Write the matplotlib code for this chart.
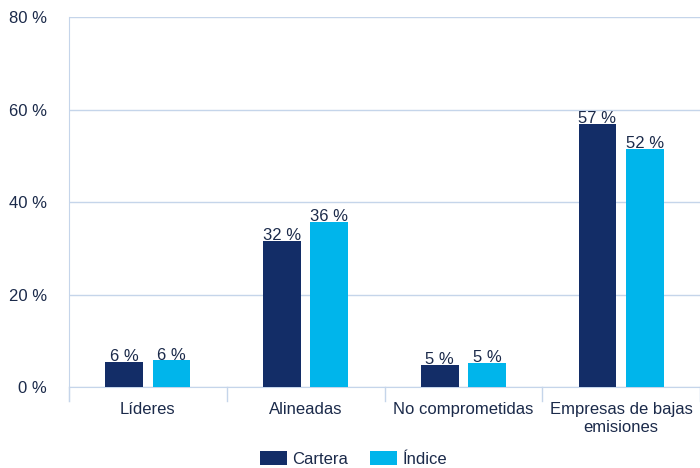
import matplotlib.pyplot as plt
import numpy as np

plt.rcParams['font.family'] = ['Liberation Sans', 'DejaVu Sans']

categorias = ['Líderes', 'Alineadas', 'No comprometidas', 'Empresas de bajas\nemisiones']
cartera = [5.4, 31.6, 4.8, 56.9]
indice = [5.8, 35.7, 5.2, 51.5]
etiquetas_cartera = ['6 %', '32 %', '5 %', '57 %']
etiquetas_indice = ['6 %', '36 %', '5 %', '52 %']

c_cartera = '#132d67'
c_indice = '#00b5eb'
c_texto = '#1b2a4a'
c_rejilla = '#c5d5ea'

fig = plt.figure(figsize=(7, 4.68), dpi=100)
ax = fig.add_axes([0.0986, 0.173, 0.9014, 0.7907])

x = np.arange(len(categorias))
w = 0.24
b1 = ax.bar(x - 0.15, cartera, w, color=c_cartera, zorder=3, label='Cartera')
b2 = ax.bar(x + 0.15, indice, w, color=c_indice, zorder=3, label='Índice')

for bars, labs in [(b1, etiquetas_cartera), (b2, etiquetas_indice)]:
    for r, t in zip(bars, labs):
        ax.text(r.get_x() + r.get_width() / 2, r.get_height() - 0.5, t,
                ha='center', va='bottom', fontsize=12, color=c_texto, zorder=4)

ax.set_xlim(-0.5, len(categorias) - 0.5)
ax.set_ylim(0, 80)
ax.set_yticks([0, 20, 40, 60, 80])
ax.set_yticklabels(['0 %', '20 %', '40 %', '60 %', '80 %'])
ax.yaxis.grid(True, color=c_rejilla, linewidth=1, zorder=0)
ax.tick_params(axis='y', length=0, pad=16, labelsize=12, labelcolor=c_texto)

ax.set_xticks(x)
ax.set_xticklabels(categorias)
ax.tick_params(axis='x', length=0, pad=11, labelsize=12, labelcolor=c_texto)
for b in np.arange(-0.5, len(categorias), 1.0):
    ax.plot([b, b], [0, -3], color=c_rejilla, linewidth=1, clip_on=False, zorder=2)

for s in ['top', 'right']:
    ax.spines[s].set_visible(False)
ax.spines['left'].set_color(c_rejilla)
ax.spines['bottom'].set_color(c_rejilla)
ax.spines['left'].set_bounds(-3, 80)

ax.legend(loc='lower center', bbox_to_anchor=(0.451, -0.24), ncol=2, frameon=False,
          fontsize=12, labelcolor=c_texto, handlelength=1.6, handleheight=1.0,
          columnspacing=1.3, handletextpad=0.35, borderpad=0.05)

fig.savefig('out.png', dpi=100)
